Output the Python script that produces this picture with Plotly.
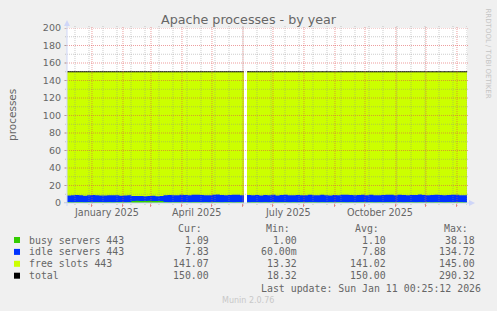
import plotly.graph_objects as go
import pandas as pd

# ---------------- data ----------------
seg1_dates = pd.date_range("2024-12-07 00:25", "2025-06-02 00:25", periods=45)
gap_date = [pd.Timestamp("2025-06-03 12:00")]
seg2_dates = pd.date_range("2025-06-05 00:25", "2026-01-11 00:25", periods=55)
dates = list(seg1_dates) + gap_date + list(seg2_dates)

busy = [1.1, 1.0, 1.1, 1.1, 1.0, 1.1, 1.0, 1.1, 1.1, 1.0,
        1.1, 1.0, 1.1, 1.1, 1.0, 1.1, 2.4, 2.5, 2.3, 2.4,
        2.5, 2.4, 2.3, 2.4, 1.1, 1.0, 1.1, 1.1, 1.0, 1.1,
        1.0, 1.1, 1.1, 1.0, 1.1, 1.0, 1.1, 1.1, 1.0, 1.1,
        1.1, 1.0, 1.1, 1.0, 1.1, None, 1.0, 1.1, 1.1, 1.0,
        1.1, 1.0, 1.1, 1.0, 1.1, 1.1, 1.0, 1.1, 1.0, 1.1,
        1.0, 1.1, 1.1, 1.0, 1.1, 1.0, 1.1, 1.0, 1.1, 1.1,
        1.0, 1.1, 1.0, 1.1, 1.1, 1.0, 1.1, 1.0, 1.1, 1.0,
        1.1, 1.1, 1.0, 1.1, 1.0, 1.1, 1.1, 1.0, 1.1, 1.0,
        1.1, 1.0, 1.1, 1.1, 1.0, 1.1, 1.0, 1.1, 1.1, 1.0,
        1.09]

idle = [7.6, 7.9, 8.1, 7.7, 7.4, 7.8, 8.2, 7.9, 7.6, 7.5,
        7.8, 8.0, 7.7, 7.3, 7.6, 7.9, 5.6, 5.5, 5.8, 5.4,
        5.6, 5.9, 5.5, 5.7, 7.8, 8.1, 7.9, 7.7, 8.3, 8.0,
        7.8, 8.2, 8.4, 8.1, 7.9, 8.0, 8.3, 8.5, 8.2, 7.9,
        8.1, 8.4, 8.2, 8.0, 7.9, None, 8.2, 7.8, 8.0, 7.7,
        8.1, 7.9, 8.3, 7.6, 8.0, 8.2, 7.8, 7.9, 8.1, 7.7,
        8.0, 8.3, 7.9, 7.8, 8.2, 8.0, 7.6, 8.1, 7.9, 8.2,
        8.4, 8.0, 7.8, 8.1, 8.3, 7.9, 8.2, 8.0, 7.7, 8.1,
        8.4, 8.2, 7.9, 8.3, 8.1, 7.8, 8.0, 8.2, 8.5, 8.1,
        7.9, 8.2, 8.3, 8.0, 7.8, 8.1, 8.4, 8.2, 7.9, 8.0,
        7.83]

total = [150.0] * 45 + [None] + [150.0] * 55

series_names = ["busy servers 443", "idle servers 443", "free slots 443", "total"]
series_colors = ["#33CC00", "#0033FF", "#CCFF00", "#000000"]
stat_headers = ["Cur:", "Min:", "Avg:", "Max:"]
stats = [
    ["1.09", "1.00", "1.10", "38.18"],
    ["7.83", "60.00m", "7.88", "134.72"],
    ["141.07", "13.32", "141.02", "145.00"],
    ["150.00", "18.32", "150.00", "290.32"],
]
x_label_dates = ["2025-01-16", "2025-04-16", "2025-07-16", "2025-10-16"]
x_label_text = ["January 2025", "April 2025", "July 2025", "October 2025"]
y_ticks = list(range(0, 201, 20))

# ---------------- geometry ----------------
W, H = 497, 311
L, R, T, B = 67, 467, 28, 203
PW, PH = R - L, B - T


def px(x):
    return (x - L) / PW


def py(y):
    return (B - y) / PH


def add(a, b):
    return [None if (u is None or v is None) else u + v for u, v in zip(a, b)]


def segments(xs, ys):
    """split a series at None values into contiguous runs"""
    out, cx, cy = [], [], []
    for x, y in zip(xs, ys):
        if y is None:
            if cx:
                out.append((cx, cy))
            cx, cy = [], []
        else:
            cx.append(x)
            cy.append(y)
    if cx:
        out.append((cx, cy))
    return out


idle_top = add(busy, idle)

FONT = "DejaVu Sans"
MONO = "DejaVu Sans Mono"
TXT = "#666666"
MGRID = "rgba(222,79,79,0.55)"
GRID = "rgba(143,143,143,0.45)"
AXIS = "#CFD6F8"

fig = go.Figure()
for ys, col in [(total, series_colors[2]), (idle_top, series_colors[1]), (busy, series_colors[0])]:
    for sx, sy in segments(dates, ys):
        fig.add_trace(go.Scatter(x=sx, y=sy, mode="lines", line=dict(width=0, shape="hv"),
                                 fill="tozeroy", fillcolor=col, hoverinfo="skip"))
for sx, sy in segments(dates, total):
    fig.add_trace(go.Scatter(x=sx, y=sy, mode="lines",
                             line=dict(width=1, color="#000000", shape="hv"), hoverinfo="skip"))

shapes = []
# horizontal grid (above traces)
for v in range(10, 201, 10):
    shapes.append(dict(type="line", xref="paper", yref="y", x0=px(L - 2), x1=px(R + 2), y0=v, y1=v,
                       line=dict(color=MGRID if v % 20 == 0 else GRID, width=1, dash="1px,1px"),
                       layer="above"))
month_starts = pd.date_range("2025-01-01", "2026-01-01", freq="MS")
minor_dates = pd.date_range("2024-12-15", "2026-01-11", freq="14D")
for d in minor_dates:
    shapes.append(dict(type="line", xref="x", yref="paper", x0=d, x1=d, y0=py(B + 2), y1=py(T - 2),
                       line=dict(color=GRID, width=1, dash="1px,1px"), layer="above"))
for d in month_starts:
    shapes.append(dict(type="line", xref="x", yref="paper", x0=d, x1=d, y0=py(B + 3), y1=py(T - 2),
                       line=dict(color=MGRID, width=1, dash="1px,1px"), layer="above"))
# axes + arrows
shapes.append(dict(type="line", xref="paper", yref="paper", x0=px(L - 3), x1=px(R + 3), y0=py(B), y1=py(B),
                   line=dict(color=AXIS, width=1), layer="above"))
shapes.append(dict(type="line", xref="paper", yref="paper", x0=px(L), x1=px(L), y0=py(B + 3), y1=py(T - 3),
                   line=dict(color=AXIS, width=1), layer="above"))
shapes.append(dict(type="path", xref="paper", yref="paper",
                   path=f"M {px(L-3)} {py(T-2)} L {px(L+3)} {py(T-2)} L {px(L)} {py(T-8)} Z",
                   fillcolor=AXIS, line=dict(width=0), layer="above"))
shapes.append(dict(type="path", xref="paper", yref="paper",
                   path=f"M {px(R+2)} {py(B-3)} L {px(R+2)} {py(B+3)} L {px(R+8)} {py(B)} Z",
                   fillcolor=AXIS, line=dict(width=0), layer="above"))
# y-axis tick marks
for v in y_ticks:
    shapes.append(dict(type="line", xref="paper", yref="y", x0=px(L - 3), x1=px(L), y0=v, y1=v,
                       line=dict(color=GRID, width=1), layer="above"))

annotations = []
annotations.append(dict(text="Apache processes - by year", x=px(248.5), y=py(19), xref="paper", yref="paper",
                        showarrow=False, font=dict(family=FONT, size=12.7, color=TXT),
                        xanchor="center", yanchor="middle"))
annotations.append(dict(text="processes", x=px(12), y=py(115), xref="paper", yref="paper", textangle=-90,
                        showarrow=False, font=dict(family=FONT, size=10.5, color=TXT),
                        xanchor="center", yanchor="middle"))
annotations.append(dict(text="RRDTOOL / TOBI OETIKER", x=px(487.5), y=py(53), xref="paper", yref="paper",
                        textangle=90, showarrow=False, font=dict(family=FONT, size=7, color="#C4C4C4"),
                        xanchor="center", yanchor="middle"))
for d, t in zip(x_label_dates, x_label_text):
    annotations.append(dict(text=t, x=d, y=py(212), xref="x", yref="paper", showarrow=False,
                            font=dict(family=FONT, size=9.6, color=TXT), xanchor="center", yanchor="middle"))

col_right = [210.7, 299.3, 388, 476.7]
head_right = [203.7, 292.3, 381, 470]
for h, xr in zip(stat_headers, head_right):
    annotations.append(dict(text=h, x=px(xr), y=py(228.5), xref="paper", yref="paper", showarrow=False,
                            font=dict(family=MONO, size=9.9, color=TXT), xanchor="right", yanchor="middle"))
for i, (name, col, row) in enumerate(zip(series_names, series_colors, stats)):
    yc = 240 + 11.9 * i
    annotations.append(dict(text=name, x=px(26.5), y=py(yc), xref="paper", yref="paper", showarrow=False,
                            font=dict(family=MONO, size=9.9, color=TXT), xanchor="left", yanchor="middle"))
    for val, xr in zip(row, col_right):
        annotations.append(dict(text=val, x=px(xr), y=py(yc), xref="paper", yref="paper", showarrow=False,
                                font=dict(family=MONO, size=9.9, color=TXT), xanchor="right", yanchor="middle"))
    shapes.append(dict(type="rect", xref="paper", yref="paper", x0=px(14), x1=px(20), y0=py(yc + 3), y1=py(yc - 3),
                       fillcolor=col, line=dict(width=0), layer="above"))
annotations.append(dict(text="Last update: Sun Jan 11 00:25:12 2026", x=px(482.7), y=py(288), xref="paper",
                        yref="paper", showarrow=False, font=dict(family=MONO, size=9.9, color=TXT),
                        xanchor="right", yanchor="middle"))
annotations.append(dict(text="Munin 2.0.76", x=px(248), y=py(300), xref="paper", yref="paper", showarrow=False,
                        font=dict(family=FONT, size=8, color="#C8C8C8"), xanchor="center", yanchor="middle"))

fig.update_layout(
    width=W, height=H,
    margin=dict(l=L, r=W - R, t=T, b=H - B, pad=0),
    paper_bgcolor="#F0F0F0", plot_bgcolor="#FFFFFF",
    showlegend=False,
    xaxis=dict(range=[dates[0], dates[-1]], showgrid=False, zeroline=False, showticklabels=False,
               tickvals=list(month_starts), ticks="outside", ticklen=3, tickcolor=MGRID, showline=False,
               fixedrange=True),
    yaxis=dict(range=[0, 200], tickvals=y_ticks, showgrid=False, zeroline=False, ticks="",
               tickfont=dict(family=FONT, size=9.5, color=TXT), ticklabelstandoff=5,
               showline=False, fixedrange=True),
    shapes=shapes,
    annotations=annotations,
)

fig.write_html("out.html")
